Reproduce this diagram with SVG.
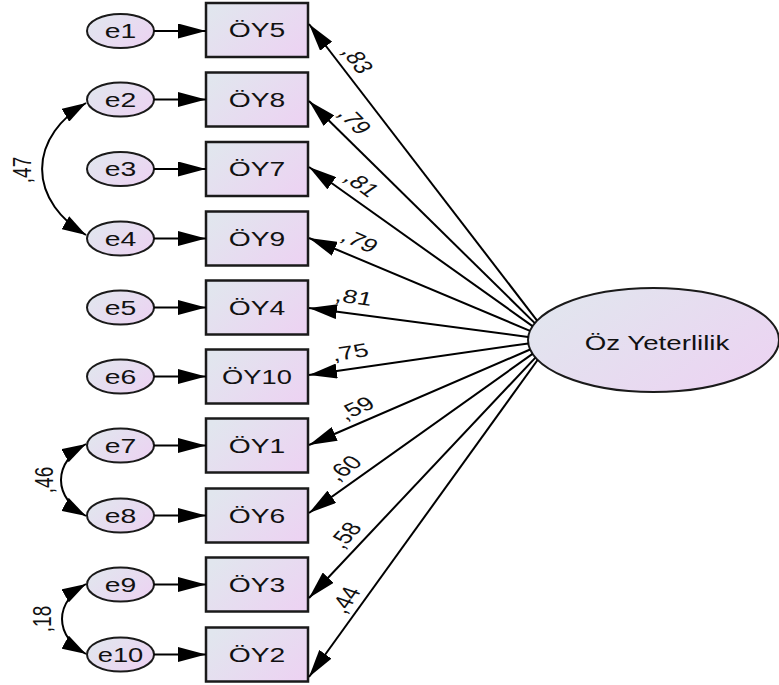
<svg xmlns="http://www.w3.org/2000/svg" width="779" height="685" viewBox="0 0 779 685">
<defs>
<linearGradient id="g" x1="0" y1="0.2" x2="1" y2="0.8">
<stop offset="0" stop-color="#e1e6ee"/>
<stop offset="1" stop-color="#ecd3f2"/>
</linearGradient>
<marker id="arr" viewBox="0 0 28 15" refX="28" refY="7.5" markerWidth="28" markerHeight="15" markerUnits="userSpaceOnUse" orient="auto-start-reverse">
<path d="M0,0 L28,7.5 L0,15 z" fill="#000"/>
</marker>
<marker id="arc" viewBox="0 0 24 15" refX="24" refY="7.5" markerWidth="24" markerHeight="15" markerUnits="userSpaceOnUse" orient="auto-start-reverse">
<path d="M0,0 L24,7.5 L0,15 z" fill="#000"/>
</marker>
</defs>
<style>
.box{fill:url(#g);stroke:#1a1a1a;stroke-width:2.5}
.ell{fill:url(#g);stroke:#1a1a1a;stroke-width:2}
.t{font-family:"Liberation Sans",Arial,sans-serif;fill:#111;text-anchor:middle}
.bt{font-size:19.5px}
.et{font-size:21px}
.lt{font-size:21px}
.nt{font-size:19px}
.ln{fill:none;stroke:#000;stroke-width:2}
.la{marker-end:url(#arr)}
.ca{marker-start:url(#arc);marker-end:url(#arc)}
</style>

<g id="latent">
<ellipse class="ell" cx="653.5" cy="340" rx="125.5" ry="52"/>
<text class="t lt" transform="translate(657,350) scale(1.32,1)">Öz Yeterlilik</text>
</g>

<g id="OY5"><rect class="box" x="206" y="3" width="102" height="54"/><text class="t bt" transform="translate(257,37) scale(1.45,1)">ÖY5</text></g>
<g id="OY8"><rect class="box" x="206" y="72.5" width="102" height="54"/><text class="t bt" transform="translate(257,106.5) scale(1.45,1)">ÖY8</text></g>
<g id="OY7"><rect class="box" x="206" y="142" width="102" height="54"/><text class="t bt" transform="translate(257,176) scale(1.45,1)">ÖY7</text></g>
<g id="OY9"><rect class="box" x="206" y="211.5" width="102" height="54"/><text class="t bt" transform="translate(257,245.5) scale(1.45,1)">ÖY9</text></g>
<g id="OY4"><rect class="box" x="206" y="280.5" width="102" height="54"/><text class="t bt" transform="translate(257,314.5) scale(1.45,1)">ÖY4</text></g>
<g id="OY10"><rect class="box" x="206" y="349.5" width="102" height="54"/><text class="t bt" transform="translate(257,383.5) scale(1.4,1)">ÖY10</text></g>
<g id="OY1"><rect class="box" x="206" y="418.5" width="102" height="54"/><text class="t bt" transform="translate(257,452.5) scale(1.45,1)">ÖY1</text></g>
<g id="OY6"><rect class="box" x="206" y="488.5" width="102" height="54"/><text class="t bt" transform="translate(257,522.5) scale(1.45,1)">ÖY6</text></g>
<g id="OY3"><rect class="box" x="206" y="557.5" width="102" height="54"/><text class="t bt" transform="translate(257,591.5) scale(1.45,1)">ÖY3</text></g>
<g id="OY2"><rect class="box" x="206" y="627.5" width="102" height="54"/><text class="t bt" transform="translate(257,661.5) scale(1.45,1)">ÖY2</text></g>

<g id="e1"><ellipse class="ell" cx="120.5" cy="31" rx="33.5" ry="17"/><text class="t et" transform="translate(120.5,38) scale(1.35,1)">e1</text></g>
<g id="e2"><ellipse class="ell" cx="120.5" cy="99.5" rx="33.5" ry="17"/><text class="t et" transform="translate(120.5,106.5) scale(1.35,1)">e2</text></g>
<g id="e3"><ellipse class="ell" cx="120.5" cy="169" rx="33.5" ry="17"/><text class="t et" transform="translate(120.5,176) scale(1.35,1)">e3</text></g>
<g id="e4"><ellipse class="ell" cx="120.5" cy="238.5" rx="33.5" ry="17"/><text class="t et" transform="translate(120.5,245.5) scale(1.35,1)">e4</text></g>
<g id="e5"><ellipse class="ell" cx="120.5" cy="307.5" rx="33.5" ry="17"/><text class="t et" transform="translate(120.5,314.5) scale(1.35,1)">e5</text></g>
<g id="e6"><ellipse class="ell" cx="120.5" cy="376.5" rx="33.5" ry="17"/><text class="t et" transform="translate(120.5,383.5) scale(1.35,1)">e6</text></g>
<g id="e7"><ellipse class="ell" cx="120.5" cy="445.5" rx="33.5" ry="17"/><text class="t et" transform="translate(120.5,452.5) scale(1.35,1)">e7</text></g>
<g id="e8"><ellipse class="ell" cx="120.5" cy="515.5" rx="33.5" ry="17"/><text class="t et" transform="translate(120.5,522.5) scale(1.35,1)">e8</text></g>
<g id="e9"><ellipse class="ell" cx="120.5" cy="584.5" rx="33.5" ry="17"/><text class="t et" transform="translate(120.5,591.5) scale(1.35,1)">e9</text></g>
<g id="e10"><ellipse class="ell" cx="120.5" cy="654.5" rx="33.5" ry="17"/><text class="t et" transform="translate(120.5,661.5) scale(1.3,1)">e10</text></g>

<g id="connectors">
<path class="ln la" d="M154,31 L206,31"/>
<path class="ln la" d="M154,99.5 L206,99.5"/>
<path class="ln la" d="M154,169 L206,169"/>
<path class="ln la" d="M154,238.5 L206,238.5"/>
<path class="ln la" d="M154,307.5 L206,307.5"/>
<path class="ln la" d="M154,376.5 L206,376.5"/>
<path class="ln la" d="M154,445.5 L206,445.5"/>
<path class="ln la" d="M154,515.5 L206,515.5"/>
<path class="ln la" d="M154,584.5 L206,584.5"/>
<path class="ln la" d="M154,654.5 L206,654.5"/>

<path class="ln la" d="M537.1,320.6 L309,24"/>
<path class="ln la" d="M534.8,323.1 L309,101"/>
<path class="ln la" d="M532.5,326.1 L309,167"/>
<path class="ln la" d="M530,330.8 L309,238"/>
<path class="ln la" d="M528.2,336.9 L309,308"/>
<path class="ln la" d="M528.3,343.4 L309,375"/>
<path class="ln la" d="M530.1,349.5 L309,445"/>
<path class="ln la" d="M532.5,353.9 L309,513"/>
<path class="ln la" d="M535.4,357.6 L309,598"/>
<path class="ln la" d="M537.6,360 L309,677"/>

<path class="ln ca" d="M86,103 A126,87 0 0,0 86,235"/>
<path class="ln ca" d="M86,444 A67,46.2 0 0,0 86,516"/>
<path class="ln ca" d="M86,584 A65.7,45.3 0 0,0 86,654"/>

<g class="t nt">
<text transform="translate(358,60) scale(1.4,1) rotate(62.1)" dy="0.35em">,83</text>
<text transform="translate(355,121) scale(1.4,1) rotate(54.9)" dy="0.35em">,79</text>
<text transform="translate(362,184) scale(1.4,1) rotate(45.9)" dy="0.35em">,81</text>
<text transform="translate(360,241) scale(1.4,1) rotate(31.4)" dy="0.35em">,79</text>
<text transform="translate(354,297) scale(1.4,1) rotate(10.8)" dy="0.35em">,81</text>
<text transform="translate(350,352) scale(1.4,1) rotate(-11.9)" dy="0.35em">,75</text>
<text transform="translate(356,408) scale(1.4,1) rotate(-32.1)" dy="0.35em">,59</text>
<text transform="translate(344,468) scale(1.4,1) rotate(-45.9)" dy="0.35em">,60</text>
<text transform="translate(345,535) scale(1.4,1) rotate(-57)" dy="0.35em">,58</text>
<text transform="translate(345,600) scale(1.4,1) rotate(-63.6)" dy="0.35em">,44</text>
<text transform="translate(22,170) scale(1.4,1) rotate(-90)" dy="0.35em">,47</text>
<text transform="translate(44,480) scale(1.4,1) rotate(-90)" dy="0.35em">,46</text>
<text transform="translate(42,619) scale(1.4,1) rotate(-90)" dy="0.35em">,18</text>
</g>
</g>
</svg>
